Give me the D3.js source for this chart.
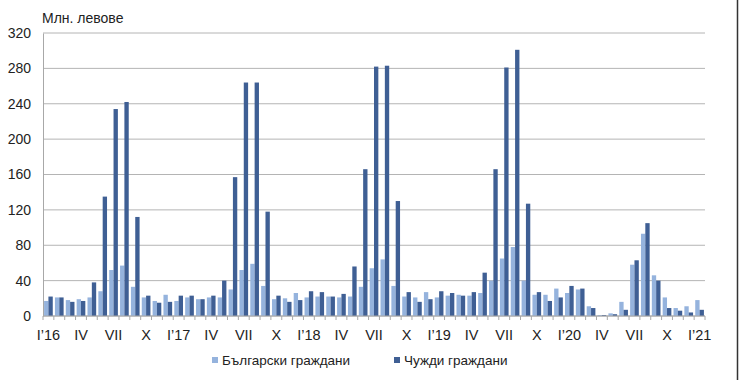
<!DOCTYPE html>
<html>
<head>
<meta charset="utf-8">
<script src="https://cdn.jsdelivr.net/npm/d3@7"></script>
<style>
  body { margin: 0; background: #fff; }
</style>
</head>
<body>
<svg id="chart"></svg>
<script>
// months Jan 2016 .. Jan 2021
var months = d3.range(61);
var tickLabels = ["I’16", "IV", "VII", "X", "I’17", "IV", "VII", "X", "I’18", "IV", "VII", "X",
                  "I’19", "IV", "VII", "X", "I’20", "IV", "VII", "X", "I’21"];
var yTicks = [0, 40, 80, 120, 160, 200, 240, 280, 320];
var seriesNames = ["Български граждани", "Чужди граждани"];

var bulgarians = [17, 21, 18, 19, 21, 28, 52, 57, 33, 21, 17, 24,
                  17, 21, 19, 21, 21, 30, 52, 59, 34, 19, 20, 26,
                  21, 22, 22, 21, 22, 33, 54, 64, 34, 22, 21, 27,
                  21, 23, 24, 23, 26, 40, 65, 78, 40, 24, 24, 31,
                  26, 30, 11, 1, 3, 16, 58, 93, 46, 21, 9, 11,
                  18];
var foreigners = [22, 21, 16, 17, 38, 135, 234, 242, 112, 23, 15, 16,
                  23, 23, 19, 23, 40, 157, 264, 264, 118, 23, 16, 18,
                  28, 27, 22, 25, 56, 166, 282, 283, 130, 27, 16, 19,
                  28, 26, 23, 27, 49, 166, 281, 301, 127, 27, 17, 21,
                  34, 31, 9, 1, 2, 7, 63, 105, 40, 9, 6, 4,
                  7];

var colors = ["#95b3dd", "#3f5f94"];
var font = "Liberation Sans";

var svgWidth = 740, svgHeight = 380;
var margin = {top: 33, right: 35, bottom: 64, left: 43};
var width = svgWidth - margin.left - margin.right;
var height = svgHeight - margin.top - margin.bottom;

var svg = d3.select("#chart")
    .attr("width", svgWidth)
    .attr("height", svgHeight)
    .style("font-family", font);

var g = svg.append("g")
    .attr("transform", "translate(" + margin.left + "," + margin.top + ")");

var x = d3.scaleBand().domain(months).range([0, width]).paddingInner(0.2).paddingOuter(0.1);
var xs = d3.scaleBand().domain([0, 1]).range([0, x.bandwidth()]);
var y = d3.scaleLinear().domain([0, 320]).range([height, 0]);

// gridlines
g.append("g")
    .selectAll("line")
    .data(yTicks)
    .join("line")
    .attr("x1", 0)
    .attr("x2", width)
    .attr("y1", function(d) { return y(d); })
    .attr("y2", function(d) { return y(d); })
    .attr("stroke", "#b4b4b4")
    .attr("stroke-width", 1);

// y axis
var yAxis = g.append("g")
    .call(d3.axisLeft(y).tickValues(yTicks).tickSize(0).tickPadding(12));
yAxis.attr("font-family", null);
yAxis.select(".domain").attr("stroke", "#a8a8a8");
yAxis.selectAll("text")
    .attr("font-size", 14)
    .attr("fill", "#222");

// bars
var groups = g.append("g")
    .selectAll("g")
    .data(months)
    .join("g")
    .attr("transform", function(d) { return "translate(" + x(d) + ",0)"; });

groups.selectAll("rect")
    .data(function(d) { return [bulgarians[d], foreigners[d]]; })
    .join("rect")
    .attr("x", function(d, i) { return xs(i); })
    .attr("width", xs.bandwidth())
    .attr("y", function(d) { return y(d); })
    .attr("height", function(d) { return height - y(d); })
    .attr("fill", function(d, i) { return colors[i]; });

// x axis
var step = x.step();
var xAxis = g.append("g")
    .attr("transform", "translate(0," + height + ")");
xAxis.append("line")
    .attr("x1", 0).attr("x2", width)
    .attr("stroke", "#a8a8a8");
xAxis.selectAll(".tick")
    .data(d3.range(62))
    .join("line")
    .attr("class", "tick")
    .attr("x1", function(d) { return d * step; })
    .attr("x2", function(d) { return d * step; })
    .attr("y1", 0).attr("y2", 4)
    .attr("stroke", "#a8a8a8");
xAxis.selectAll("text")
    .data(tickLabels)
    .join("text")
    .attr("x", function(d, i) { return x(i * 3) + x.bandwidth() / 2; })
    .attr("y", 24)
    .attr("text-anchor", "middle")
    .attr("font-size", 14.5)
    .attr("fill", "#222")
    .text(function(d) { return d; });

// y title
svg.append("text")
    .attr("x", 42)
    .attr("y", 23)
    .attr("font-size", 14)
    .attr("fill", "#222")
    .text("Млн. левове");

// legend
var legendX = [212, 394];
var legend = svg.append("g")
    .selectAll("g")
    .data(seriesNames)
    .join("g")
    .attr("transform", function(d, i) { return "translate(" + legendX[i] + ",357)"; });
legend.append("rect")
    .attr("width", 6).attr("height", 6)
    .attr("fill", function(d, i) { return colors[i]; });
legend.append("text")
    .attr("x", 10)
    .attr("y", 8)
    .attr("font-size", 13.5)
    .attr("fill", "#222")
    .text(function(d) { return d; });

// right frame edge
svg.append("line")
    .attr("x1", 737.5).attr("x2", 737.5)
    .attr("y1", 0).attr("y2", svgHeight)
    .attr("stroke", "#333")
    .attr("stroke-width", 1.5);
</script>
</body>
</html>
